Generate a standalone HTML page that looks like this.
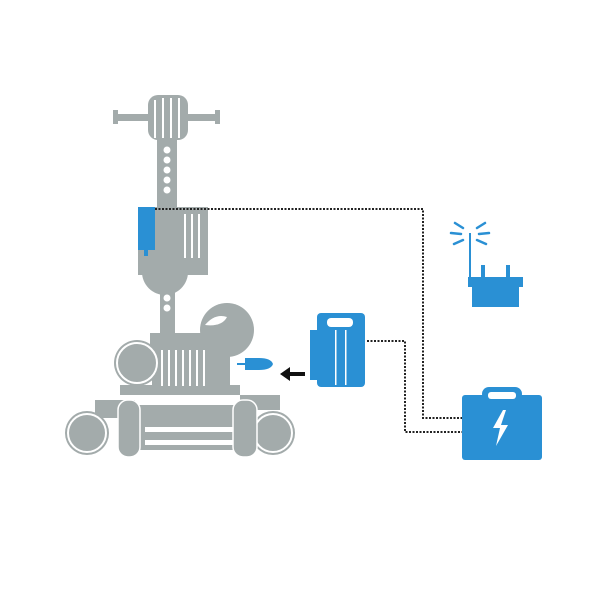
<!DOCTYPE html><html><head><style>body{margin:0;background:#fff}svg{display:block}</style></head><body>
<svg width="600" height="600" viewBox="0 0 600 600" xmlns="http://www.w3.org/2000/svg">
<g fill="#a3abab">
<rect x="115" y="114" width="103" height="7"/>
<rect x="113" y="110" width="5" height="14"/><rect x="215" y="110" width="5" height="14"/>
<rect x="148" y="95" width="40" height="45" rx="10"/>
<rect x="157" y="138" width="20" height="70"/>
<rect x="138" y="207" width="70" height="68"/>
<path d="M142 272 A23 23 0 0 0 188 272 Z"/>
<rect x="160" y="283" width="15" height="55"/>
<circle cx="227" cy="330" r="27"/>
<rect x="150" y="333" width="85" height="15"/>
<rect x="142" y="345" width="30" height="35" rx="4"/>
<rect x="152" y="345" width="78" height="45"/>
<circle cx="137" cy="363" r="23"/>
<rect x="120" y="385" width="120" height="10"/>
<rect x="125" y="405" width="110" height="45"/>
<rect x="95" y="400" width="40" height="18"/>
<circle cx="87" cy="433" r="22"/>
<circle cx="273" cy="433" r="22"/>
<rect x="240" y="395" width="40" height="15"/>
</g>
<g fill="#fff">
<rect x="145" y="427" width="88" height="5"/>
<rect x="145" y="440" width="88" height="5"/>
<g fill="none" stroke="#fff" stroke-width="2">
<circle cx="87" cy="433" r="19"/><circle cx="273" cy="433" r="19"/>
<path d="M155 100 v38 M163 98 v40 M171 98 v40 M179 98 v40"/>
<path d="M185 214 v44 M192 214 v44 M199 214 v44"/>
<path d="M162 350 v36 M169 350 v36 M176 350 v36 M183 350 v36 M190 350 v36 M197 350 v36 M204 350 v36"/>
<circle cx="137" cy="363" r="20"/>
</g>
<circle cx="167" cy="150" r="3.5"/><circle cx="167" cy="160" r="3.5"/><circle cx="167" cy="170" r="3.5"/><circle cx="167" cy="180" r="3.5"/><circle cx="167" cy="190" r="3.5"/>
<circle cx="167" cy="298" r="3.5"/><circle cx="167" cy="308" r="3.5"/>
<path d="M205 325 q10 -12 22 -8 q-5 10 -22 8z"/>
</g>
<g fill="#a3abab">
<rect x="118" y="400" width="22" height="57" rx="10"/>
<rect x="233" y="400" width="24" height="57" rx="10"/>
</g>
<g fill="none" stroke="#fff" stroke-width="1.5"><rect x="118" y="400" width="22" height="57" rx="10"/><rect x="233" y="400" width="24" height="57" rx="10"/></g>
<g fill="none" stroke="#222" stroke-width="2" stroke-dasharray="2,1.5">
<path d="M155 209 H423 V418 H462"/>
<path d="M367 341 H405 V432 H462"/>
</g>
<g fill="#2a90d4">
<rect x="138" y="207" width="17" height="43"/><rect x="144" y="250" width="4" height="6"/>
<path d="M237 363 h8 v-5 h14 q12 0 14 6 q-2 6 -14 6 h-14 v-5 h-8z"/>
<rect x="317" y="313" width="48" height="74" rx="4"/>
<rect x="310" y="330" width="8" height="50"/>
<rect x="468" y="277" width="55" height="10"/>
<rect x="472" y="285" width="47" height="22"/>
<rect x="469" y="233" width="2" height="45"/>
<rect x="481" y="265" width="4" height="13"/><rect x="506" y="265" width="4" height="13"/>
<rect x="462" y="395" width="80" height="65" rx="3"/>
<rect x="482" y="387" width="40" height="14" rx="7"/>
</g>
<g stroke="#2a90d4" stroke-width="2.5" stroke-linecap="round">
<path d="M463 228 l-8 -5 M461 234 l-10 -1 M463 240 l-9 4 M477 228 l8 -5 M479 234 l10 -1 M477 240 l9 4"/>
</g>
<g fill="#fff">
<rect x="327" y="318" width="26" height="9" rx="4"/>
<rect x="488" y="392" width="28" height="7" rx="3"/>
<rect x="345" y="330" width="1.5" height="55"/><rect x="335" y="330" width="1.5" height="55"/>
<path d="M503 410 l-10 18 h7 l-4 18 l12 -21 h-7 l5 -15z"/>
</g>
<path d="M305 372 h-15 v-5 l-10 7 l10 7 v-5 h15z" fill="#111"/>
</svg>
</body></html>
